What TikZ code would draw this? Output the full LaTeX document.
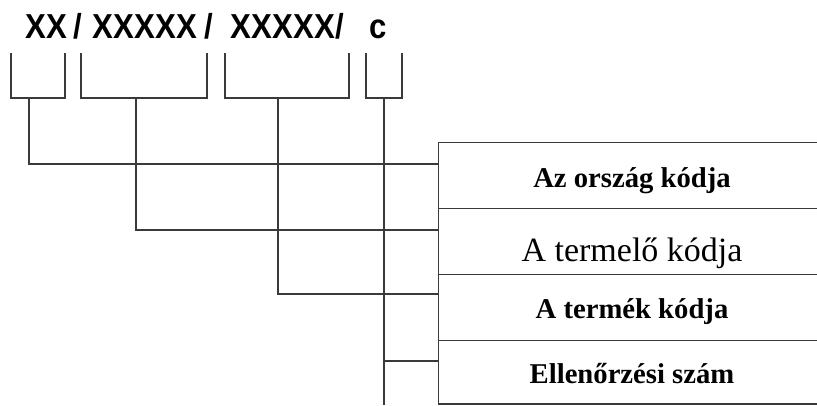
\documentclass[tikz,border=0pt]{standalone}
\usepackage{fontspec}
\setmainfont{Liberation Serif}
\newfontfamily\kodfont{Liberation Sans}
\usetikzlibrary{positioning,calc}
\definecolor{vonal}{HTML}{3A3A3A}

\begin{document}
\begin{tikzpicture}[x=0.75pt, y=-0.75pt,
    wire/.style={vonal, line width=1.1pt},
    kod/.style={font=\kodfont\bfseries\fontsize{26}{28}\selectfont, inner sep=0pt, anchor=base, xscale=0.9, transform shape},
    sor/.style={draw=vonal, line width=1.1pt, anchor=north west, minimum width=320pt, inner sep=0pt},
    felkover/.style={font=\bfseries\fontsize{21.5}{24}\selectfont, inner sep=0pt, anchor=base},
    felnormal/.style={font=\fontsize{25.5}{28}\selectfont, inner sep=0pt, anchor=base}]
  \useasboundingbox (0,0) rectangle (817,405);
  \clip (0,0) rectangle (817,405);
  \foreach \x/\t/\n in {46.5/XX/orszag, 145/XXXXX/termelo, 283/XXXXX/termek, 378.5/c/ell}
    \node[kod] (\n) at (\x,38) {\t};
  \foreach \x [count=\i] in {77.5, 209, 340}
    \node[kod] (sl\i) at (\x,38) {/};
  \foreach \l/\r/\s/\n in {11/65/29/1, 81/207/136/2, 225/349/278/3, 366/402/384/4} {
    \draw[wire] (\l,53) |- (\r,98) -- (\r,53);
    \coordinate (s\n) at (\s,98);
  }
  \foreach \y/\h/\b/\f/\t/\n in {142/49.5/187/felkover/Az ország kódja/1,
      208/49.5/261/felnormal/A termelő kódja/2,
      274/49.5/318/felkover/A termék kódja/3,
      340/47.5/383/felkover/Ellenőrzési szám/4} {
    \node[sor, minimum height=\h pt] (r\n) at (438,\y) {};
    \node[\f] (t\n) at (632,\b) {\t};
  }
  \coordinate (also) at (384,405);
  \draw[wire] (s1) |- ([yshift=-16.5pt]r1.north west);
  \draw[wire] (s2) |- ([yshift=-16.5pt]r2.north west);
  \draw[wire] (s3) |- ([yshift=-15pt]r3.north west);
  \draw[wire] (s4) |- ([yshift=-15.75pt]r4.north west);
  \draw[wire] (s4) -- (also);
\end{tikzpicture}
\end{document}
